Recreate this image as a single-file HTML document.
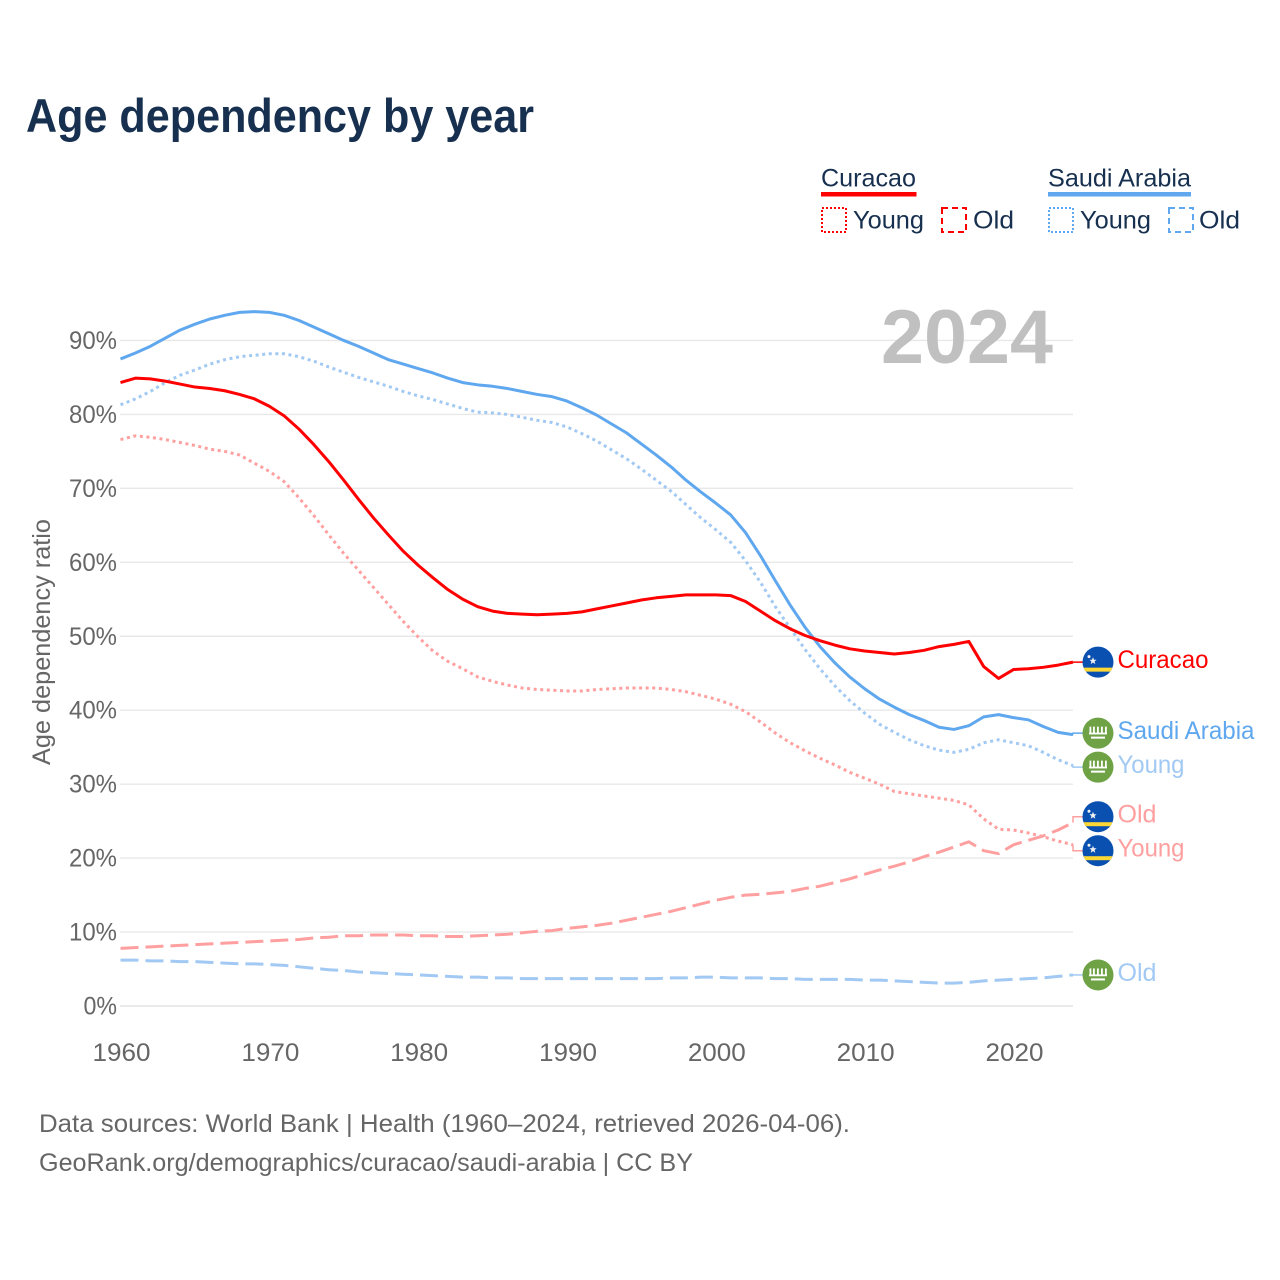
<!DOCTYPE html>
<html lang="en">
<head>
<meta charset="utf-8">
<title>Age dependency by year</title>
<style>
html,body{margin:0;padding:0;background:#fff;}
svg{display:block;font-family:"Liberation Sans",sans-serif;}
</style>
</head>
<body>
<svg id="chart" xmlns="http://www.w3.org/2000/svg" width="1280" height="1280" viewBox="0 0 1280 1280">
<defs><clipPath id="flag-clip"><circle cx="0" cy="0" r="15.5"/></clipPath></defs>
<rect x="0" y="0" width="1280" height="1280" fill="#fff"/>
<text x="26" y="132" font-size="47" font-weight="700" fill="#17304f" textLength="508" lengthAdjust="spacingAndGlyphs">Age dependency by year</text>

<g font-size="25" fill="#17304f">
  <text x="821" y="186.5" textLength="95" lengthAdjust="spacingAndGlyphs">Curacao</text>
  <rect x="821" y="192" width="95.5" height="4.5" fill="#ff0000"/>
  <rect x="822" y="208" width="24" height="24" fill="none" stroke="#ff0000" stroke-width="2" stroke-dasharray="2 2"/>
  <text x="853" y="228.5" textLength="71" lengthAdjust="spacingAndGlyphs">Young</text>
  <rect x="942" y="208" width="24" height="24" fill="none" stroke="#ff0000" stroke-width="2" stroke-dasharray="6 4"/>
  <text x="973" y="228.5" textLength="41" lengthAdjust="spacingAndGlyphs">Old</text>
  <text x="1048" y="186.5" textLength="143" lengthAdjust="spacingAndGlyphs">Saudi Arabia</text>
  <rect x="1048" y="192" width="143" height="4.5" fill="#5fa7ee"/>
  <rect x="1049" y="208" width="24" height="24" fill="none" stroke="#5fa7ee" stroke-width="2" stroke-dasharray="2 2"/>
  <text x="1080" y="228.5" textLength="71" lengthAdjust="spacingAndGlyphs">Young</text>
  <rect x="1169" y="208" width="24" height="24" fill="none" stroke="#5fa7ee" stroke-width="2" stroke-dasharray="6 4"/>
  <text x="1199" y="228.5" textLength="41" lengthAdjust="spacingAndGlyphs">Old</text>
</g>

<g id="grid"></g>
<g id="yticks" font-size="25" fill="#666"></g>
<g id="xticks" font-size="25" fill="#666"></g>
<text x="881" y="363" font-size="76" font-weight="700" fill="#c0c0c0" textLength="172" lengthAdjust="spacingAndGlyphs">2024</text>
<text transform="translate(50,642) rotate(-90)" text-anchor="middle" font-size="25" fill="#666" textLength="246" lengthAdjust="spacingAndGlyphs">Age dependency ratio</text>
<g id="series"></g>
<g id="labels"></g>

<g font-size="25" fill="#666">
  <text x="39" y="1132" textLength="811" lengthAdjust="spacingAndGlyphs">Data sources: World Bank | Health (1960–2024, retrieved 2026-04-06).</text>
  <text x="39" y="1171" textLength="654" lengthAdjust="spacingAndGlyphs">GeoRank.org/demographics/curacao/saudi-arabia | CC BY</text>
</g>
</svg>

<script>
var startYear = 1960;
var endYear = 2024;
var xTickLabels = [1960, 1970, 1980, 1990, 2000, 2010, 2020];
var yTickLabels = [0, 10, 20, 30, 40, 50, 60, 70, 80, 90];

var curacaoTotal = [84.3,84.9,84.8,84.5,84.1,83.7,83.5,83.2,82.7,82.1,81.1,79.8,78.0,75.9,73.6,71.1,68.5,66.0,63.7,61.5,59.6,57.9,56.3,55.0,54.0,53.4,53.1,53.0,52.9,53.0,53.1,53.3,53.7,54.1,54.5,54.9,55.2,55.4,55.6,55.6,55.6,55.5,54.7,53.4,52.1,51.0,50.1,49.4,48.8,48.3,48.0,47.8,47.6,47.8,48.1,48.6,48.9,49.3,45.9,44.3,45.5,45.6,45.8,46.1,46.5];
var curacaoYoung = [76.6,77.1,76.9,76.6,76.2,75.8,75.3,75.0,74.5,73.4,72.3,70.9,68.7,66.3,63.7,61.2,58.9,56.6,54.3,52.0,49.9,48.0,46.6,45.6,44.5,43.9,43.4,43.0,42.8,42.7,42.6,42.6,42.8,42.9,43.0,43.0,43.0,42.8,42.5,42.0,41.5,40.8,39.8,38.4,36.9,35.6,34.5,33.5,32.6,31.6,30.8,30.0,29.0,28.7,28.4,28.1,27.8,27.2,25.3,23.9,23.8,23.4,22.9,22.3,21.8];
var curacaoOld = [7.8,7.9,8.0,8.1,8.2,8.3,8.4,8.5,8.6,8.7,8.8,8.9,9.0,9.2,9.3,9.5,9.5,9.6,9.6,9.6,9.5,9.5,9.4,9.4,9.5,9.6,9.7,9.9,10.1,10.2,10.5,10.7,10.9,11.2,11.6,12.0,12.4,12.8,13.3,13.8,14.3,14.7,15.0,15.1,15.3,15.5,15.9,16.2,16.7,17.2,17.8,18.4,18.9,19.5,20.2,20.8,21.5,22.2,21.0,20.6,21.8,22.4,23.0,23.8,24.8];
var saudiTotal = [87.5,88.3,89.2,90.3,91.4,92.2,92.9,93.4,93.8,93.9,93.8,93.4,92.7,91.8,90.9,90.0,89.2,88.3,87.4,86.8,86.2,85.6,84.9,84.3,84.0,83.8,83.5,83.1,82.7,82.4,81.8,80.9,79.9,78.7,77.5,76.0,74.5,72.9,71.1,69.5,68.0,66.4,64.0,60.9,57.5,54.2,51.2,48.6,46.4,44.5,42.9,41.5,40.4,39.4,38.6,37.7,37.4,37.9,39.1,39.4,39.0,38.7,37.8,37.0,36.7];
var saudiYoung = [81.3,82.1,83.1,84.3,85.3,86.0,86.8,87.4,87.8,88.0,88.2,88.2,87.8,87.2,86.4,85.7,85.0,84.4,83.8,83.1,82.5,82.0,81.4,80.8,80.3,80.2,80.0,79.6,79.2,78.9,78.3,77.4,76.4,75.2,74.0,72.6,71.1,69.6,67.8,66.0,64.4,62.7,60.2,57.3,54.0,51.1,48.2,45.6,43.3,41.3,39.6,38.1,37.0,36.0,35.2,34.6,34.3,34.7,35.6,36.0,35.6,35.2,34.3,33.3,32.5];
var saudiOld = [6.2,6.2,6.1,6.1,6.0,6.0,5.9,5.8,5.7,5.7,5.6,5.5,5.3,5.1,4.9,4.8,4.6,4.5,4.4,4.3,4.2,4.1,4.0,3.9,3.9,3.8,3.8,3.7,3.7,3.7,3.7,3.7,3.7,3.7,3.7,3.7,3.7,3.8,3.8,3.9,3.9,3.8,3.8,3.8,3.7,3.7,3.6,3.6,3.6,3.6,3.5,3.5,3.4,3.3,3.2,3.1,3.1,3.2,3.4,3.5,3.6,3.7,3.8,4.0,4.2];

var NS = 'http://www.w3.org/2000/svg';
function xScale(year) { return 120.5 + (year - startYear) * (1073 - 120.5) / (endYear - startYear); }
function yScale(v) { return 1006 - v * 7.395; }
function make(tag, parent) { var el = document.createElementNS(NS, tag); parent.appendChild(el); return el; }

var gridGroup = document.getElementById('grid');
var yGroup = document.getElementById('yticks');
yTickLabels.forEach(function (v) {
  var line = make('line', gridGroup);
  
  
  line.setAttribute('x1', 120);
  line.setAttribute('x2', 1073);
  line.setAttribute('y1', yScale(v));
  line.setAttribute('y2', yScale(v));
  line.setAttribute('stroke', v === 0 ? '#e4e4e4' : '#e8e8e8');
  line.setAttribute('stroke-width', 1.4);
  var t = make('text', yGroup);
  
  
  t.setAttribute('x', 117);
  t.setAttribute('y', yScale(v) + 8.5);
  t.setAttribute('text-anchor', 'end');
  t.setAttribute('textLength', String(v).length * 14.5 + 19);
  t.setAttribute('lengthAdjust', 'spacingAndGlyphs');
  t.textContent = v + '%';
});

var xGroup = document.getElementById('xticks');
xTickLabels.forEach(function (year) {
  var t = make('text', xGroup);
  
  
  t.setAttribute('x', xScale(year) + 1);
  t.setAttribute('y', 1061);
  t.setAttribute('text-anchor', 'middle');
  t.setAttribute('textLength', 58);
  t.setAttribute('lengthAdjust', 'spacingAndGlyphs');
  t.textContent = year;
});

var seriesList = [
  { id: 'curacao-old', values: curacaoOld, color: '#ff9f9f', dash: '18 7', label: 'Old', flag: 'curacao', width: 39 },
  { id: 'saudi-old', values: saudiOld, color: '#a1c9f3', dash: '18 7', label: 'Old', flag: 'saudi', width: 39 },
  { id: 'curacao-young', values: curacaoYoung, color: '#ff9f9f', dash: '3 3.6', label: 'Young', flag: 'curacao', width: 67 },
  { id: 'saudi-young', values: saudiYoung, color: '#a1c9f3', dash: '3 3.6', label: 'Young', flag: 'saudi', width: 67 },
  { id: 'saudi-total', values: saudiTotal, color: '#5fa7ee', dash: '', label: 'Saudi Arabia', flag: 'saudi', width: 137 },
  { id: 'curacao-total', values: curacaoTotal, color: '#ff0000', dash: '', label: 'Curacao', flag: 'curacao', width: 91 }
];

var seriesGroup = document.getElementById('series');
seriesList.forEach(function (s) {
  var pts = s.values.map(function (v, i) { return xScale(startYear + i).toFixed(2) + ',' + yScale(v).toFixed(2); }).join(' ');
  var line = make('polyline', seriesGroup);
  
  
  line.setAttribute('points', pts);
  line.setAttribute('fill', 'none');
  line.setAttribute('stroke', s.color);
  line.setAttribute('stroke-width', 3);
  line.setAttribute('stroke-linejoin', 'round');
  if (s.dash) { line.setAttribute('stroke-dasharray', s.dash); }
});

/* place end labels, pushing overlapping neighbours apart */
var minGap = 34;
var placed = seriesList.map(function (s) {
  return { s: s, end: yScale(s.values[s.values.length - 1]), y: yScale(s.values[s.values.length - 1]) };
}).sort(function (a, b) { return a.end - b.end; });
for (var pass = 0; pass < 20; pass++) {
  for (var i = 1; i < placed.length; i++) {
    var overlap = minGap - (placed[i].y - placed[i - 1].y);
    if (overlap > 0) { placed[i - 1].y -= overlap / 2; placed[i].y += overlap / 2; }
  }
}

function drawCuracaoFlag(parent) {
  var clip = make('g', parent);
  clip.setAttribute('clip-path', 'url(#flag-clip)');
  var bg = make('rect', clip);
  bg.setAttribute('x', -16); bg.setAttribute('y', -16); bg.setAttribute('width', 32); bg.setAttribute('height', 32);
  bg.setAttribute('fill', '#0a50b0');
  var band = make('rect', clip);
  band.setAttribute('x', -16); band.setAttribute('y', 5.5); band.setAttribute('width', 32); band.setAttribute('height', 4);
  band.setAttribute('fill', '#fdd835');
  var big = make('polygon', clip);
  big.setAttribute('points', '-5,-5 -4,-2.4 -1.4,-2.4 -3.4,-0.7 -2.7,2 -5,0.4 -7.3,2 -6.6,-0.7 -8.6,-2.4 -6,-2.4');
  big.setAttribute('fill', '#f2f2f2');
  var small = make('circle', clip);
  small.setAttribute('cx', -9); small.setAttribute('cy', -5.5); small.setAttribute('r', 1.5);
  small.setAttribute('fill', '#f2f2f2');
}
function drawSaudiFlag(parent) {
  var clip = make('g', parent);
  clip.setAttribute('clip-path', 'url(#flag-clip)');
  var bg = make('rect', clip);
  bg.setAttribute('x', -16); bg.setAttribute('y', -16); bg.setAttribute('width', 32); bg.setAttribute('height', 32);
  bg.setAttribute('fill', '#6ea244');
  ['-8.5', '-5', '-1', '3', '7'].forEach(function (bx) {
    var b = make('rect', clip);
    b.setAttribute('x', bx); b.setAttribute('y', -6.5); b.setAttribute('width', 1.8); b.setAttribute('height', 7);
    b.setAttribute('fill', '#fff');
  });
  var base = make('rect', clip);
  base.setAttribute('x', -9); base.setAttribute('y', -0.5); base.setAttribute('width', 18); base.setAttribute('height', 1.8);
  base.setAttribute('fill', '#fff');
  var sword = make('rect', clip);
  sword.setAttribute('x', -7); sword.setAttribute('y', 3.5); sword.setAttribute('width', 14); sword.setAttribute('height', 2);
  sword.setAttribute('fill', '#fff');
}

var labelGroup = document.getElementById('labels');
placed.forEach(function (p) {
  var s = p.s;
  var conn = make('polyline', labelGroup);
  
  
  conn.setAttribute('points', '1073,' + p.end.toFixed(2) + ' 1073,' + p.y.toFixed(2) + ' 1083,' + p.y.toFixed(2));
  conn.setAttribute('fill', 'none');
  conn.setAttribute('stroke', s.color);
  conn.setAttribute('stroke-width', 1.5);

  var flag = make('g', labelGroup);
  
  
  flag.setAttribute('transform', 'translate(1098,' + p.y.toFixed(2) + ')');
  if (s.flag === 'curacao') { drawCuracaoFlag(flag); } else { drawSaudiFlag(flag); }

  var t = make('text', labelGroup);
  
  
  t.setAttribute('x', 1117.5);
  t.setAttribute('y', p.y + 6);
  t.setAttribute('font-size', 25);
  t.setAttribute('fill', s.color);
  t.setAttribute('textLength', s.width);
  t.setAttribute('lengthAdjust', 'spacingAndGlyphs');
  t.textContent = s.label;
});
</script>
</body>
</html>
